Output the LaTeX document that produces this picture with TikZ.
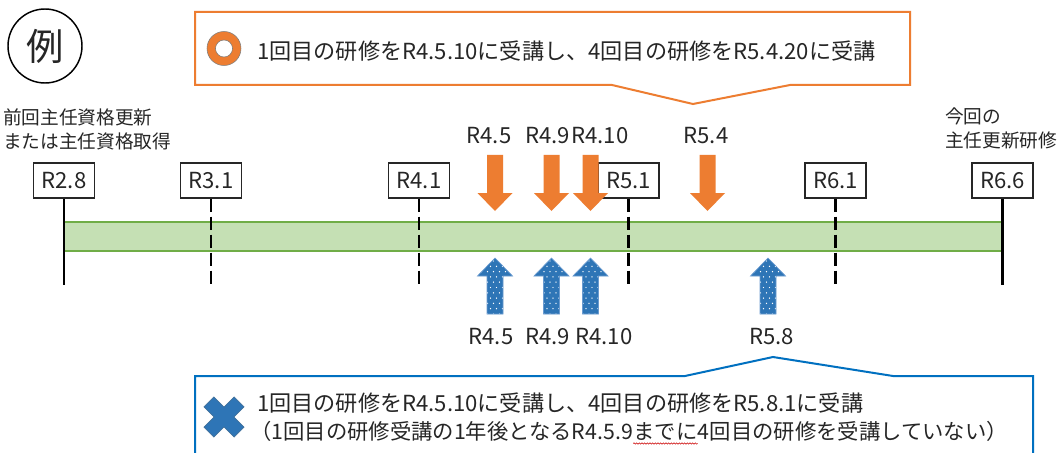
\documentclass[tikz,border=0pt]{standalone}
\usepackage{fontspec}
\setmainfont{Noto Sans CJK JP}
\usetikzlibrary{decorations.pathmorphing}
\definecolor{orng}{HTML}{ED7D31}
\definecolor{bluef}{HTML}{2E75B6}
\definecolor{blueb}{HTML}{0070C0}
\definecolor{blueo}{HTML}{6A9BD0}
\definecolor{xout}{HTML}{41719C}
\definecolor{grnf}{HTML}{C5E0B4}
\definecolor{grnd}{HTML}{70AD47}
\definecolor{txt}{HTML}{262626}
\newcommand\dnpath[1]{(#1-8,155) -- (#1+8,155) -- (#1+8,193) -- (#1+17.5,193) -- (#1,211) -- (#1-17.5,193) -- (#1-8,193) -- cycle}
\newcommand\uppath[1]{(#1-8,314) -- (#1-8,276) -- (#1-17.5,276) -- (#1,258) -- (#1+17.5,276) -- (#1+8,276) -- (#1+8,314) -- cycle}
\newcommand\orarrow[1]{\fill[orng] \dnpath{#1};}
\newcommand\blarrow[1]{%
  \begin{scope}
    \fill[bluef] \uppath{#1};
    \clip \uppath{#1};
    \foreach \r in {0,...,10}{\foreach \c in {-3,...,3}{
      \fill[white] ({#1+\c*6+mod(\r,2)*3-1.5},{261+\r*5.3}) circle[radius=0.55pt];}}
  \end{scope}
  \draw[blueo, line width=0.5pt] \uppath{#1};}
\newcommand\dashtick[1]{%
  \draw[tick] (#1.south) -- ++(0,13) ++(0,5) -- ++(0,13) ++(0,5) -- ++(0,13) ++(0,5) -- ++(0,13) ++(0,5) -- ++(0,13);}
\begin{document}
\begin{tikzpicture}[x=0.75pt,y=-0.75pt,
  every node/.style={text=txt, inner sep=0pt},
  f22/.style={font=\fontsize{16.6}{19}\selectfont},
  f21/.style={font=\fontsize{16}{19}\selectfont},
  f19/.style={font=\fontsize{14}{17}\selectfont},
  datebox/.style={draw=txt, line width=0.8pt, fill=white, minimum width=45.75pt, minimum height=26.25pt, f22},
  tick/.style={line width=1.6pt, draw=black},
  callout/.style={line width=1.5pt, line join=miter},
]
\clip (0,0) rectangle (1058,453);
\fill[white] (0,0) rectangle (1058,453);

% example circle
\node[draw=black, line width=1.1pt, circle, minimum size=55.5pt, font=\fontsize{28}{30}\selectfont] (rei) at (45,46) {例};

% orange callout
\draw[orng, callout] (195,12) -- (910,12) -- (910,85) -- (790,85) -- (693,104) -- (612,85) -- (195,85) -- cycle;
\fill[orng, draw=txt!60, line width=0.4pt, even odd rule] (224,48.5) circle[radius=12.75pt] (224,48.5) circle[radius=6.4pt];
\node[f22, anchor=base west] (okText) at (257,59.5) {1回目の研修をR4.5.10に受講し、4回目の研修をR5.4.20に受講};

% side labels
\node[f19, anchor=base west] (prevA) at (3,125) {前回主任資格更新};
\node[f19, anchor=base west] (prevB) at (3,148) {または主任資格取得};
\node[f19, anchor=base west] (curA) at (945,124) {今回の};
\node[f19, anchor=base west] (curB) at (945,147) {主任更新研修};

% band
\fill[grnf] (64,222) rectangle (1002,251);
\draw[grnd, line width=0.9pt] (64,222) -- (1002,222) (64,251) -- (1002,251);

% date boxes
\node[datebox] (d28) at (64,180.5) {R2.8};
\node[datebox] (d31) at (211,180.5) {R3.1};
\node[datebox] (d41) at (419,180.5) {R4.1};
\node[datebox] (d51) at (628.5,180.5) {R5.1};
\node[datebox] (d61) at (835.5,180.5) {R6.1};
\node[datebox] (d66) at (1002.5,180.5) {R6.6};
\coordinate (e28) at (64,285);
\coordinate (e66) at (1002.5,285);
\draw[tick] (d28.south) -- (e28);
\draw[tick] (d66.south) -- (e66);
\dashtick{d31}
\dashtick{d41}
\dashtick{d51}
\dashtick{d61}

% orange arrows
\orarrow{495}
\orarrow{551.5}
\orarrow{590.5}
\orarrow{707.5}
\node[f22, anchor=base] (t45) at (489,143) {R4.5};
\node[f22, anchor=base] (t49) at (547.5,143) {R4.9};
\node[f22, anchor=base] (t410) at (600,143) {R4.10};
\node[f22, anchor=base] (t54) at (706,143) {R5.4};

% blue arrows
\blarrow{495}
\blarrow{551.5}
\blarrow{590.5}
\blarrow{768}
\node[f22, anchor=base] (b45) at (491,344.5) {R4.5};
\node[f22, anchor=base] (b49) at (547.5,344.5) {R4.9};
\node[f22, anchor=base] (b410) at (604,344.5) {R4.10};
\node[f22, anchor=base] (b58) at (771.5,344.5) {R5.8};

% blue callout
\draw[blueb, callout] (195,470) -- (195,376) -- (685,376) -- (773,357) -- (893,376) -- (1033,376) -- (1033,470);
\begin{scope}[shift={(224,417)}]
\fill[bluef, draw=xout, line width=0.6pt] (9.9,0) -- (20,10.1) -- (10.1,20) -- (0,9.9) -- (-10.1,20) -- (-20,10.1) -- (-9.9,0) -- (-20,-10.1) -- (-10.1,-20) -- (0,-9.9) -- (10.1,-20) -- (20,-10.1) -- cycle;
\end{scope}
\node[f22, anchor=base west] (ngA) at (257,411.5) {1回目の研修をR4.5.10に受講し、4回目の研修をR5.8.1に受講};
\node[f21, anchor=base west] (ngB1) at (250,439.5) {（1回目の研修受講の1年後となるR4.5.9};
\node[f21, anchor=base west] (ngB2) at (ngB1.base east) {までに};
\node[f21, anchor=base west] (ngB3) at (ngB2.base east) {4回目の研修を受講していない）};
\draw[red!80!black, line width=0.4pt, decorate, decoration={snake, amplitude=0.5pt, segment length=2pt}] ([yshift=-3pt]ngB2.base west) -- ([yshift=-3pt]ngB2.base east);
\end{tikzpicture}
\end{document}
